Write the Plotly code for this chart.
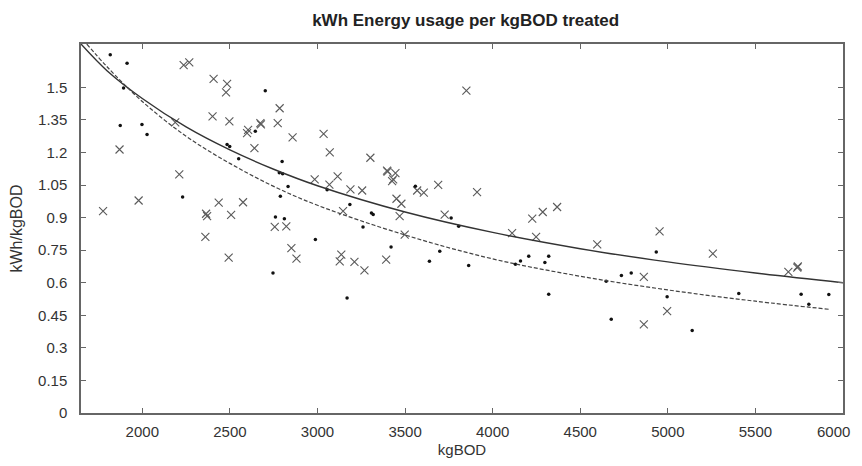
import plotly.graph_objects as go

# ------------------------------------------------------------
# data
DOT_X = [1817, 1913, 1893, 1874, 1998, 2027, 2702, 2645, 2484, 2499,
         2550, 2798, 2782, 2801, 2832, 2788, 2230, 3055, 2760, 2811,
         2988, 2746, 3559, 3185, 3308, 3318, 3763, 3806, 3260, 3420,
         3698, 3639, 3863, 4159, 4206, 4130, 4298, 4320, 3169, 4320,
         4934, 4648, 4735, 4791, 4996, 5405, 5761, 5805, 5919, 4677, 5139]
DOT_Y = [1.651, 1.611, 1.497, 1.324, 1.329, 1.283, 1.485, 1.298, 1.237, 1.228,
         1.171, 1.159, 1.107, 1.102, 1.044, 0.999, 0.995, 1.028, 0.903, 0.895,
         0.799, 0.645, 1.045, 0.961, 0.921, 0.914, 0.898, 0.860, 0.857, 0.765,
         0.745, 0.699, 0.679, 0.700, 0.722, 0.685, 0.693, 0.722, 0.530, 0.547,
         0.742, 0.607, 0.634, 0.645, 0.535, 0.550, 0.547, 0.501, 0.546, 0.432, 0.380]

CROSS_X = [2236, 2268, 2407, 2484, 2478, 2784, 2401, 2497, 2188, 2674,
           2677, 2773, 2604, 2598, 2858, 3035, 3070, 1870, 2640, 2211,
           2984, 3068, 1979, 1776, 2436, 2575, 2364, 2370, 2507, 2756,
           2822, 2360, 2851, 2880, 2493, 3850, 3302, 3397, 3400, 3445,
           3432, 3426, 3115, 3188, 3255, 3689, 3569, 3607, 3911, 3451,
           3479, 3146, 3469, 3726, 4226, 4286, 4368, 3498, 4111, 4248,
           3136, 3127, 3211, 3268, 3392, 4597, 4953, 5257, 5688, 5739,
           5742, 4863, 4996, 4863]
CROSS_Y = [1.603, 1.615, 1.539, 1.516, 1.477, 1.404, 1.367, 1.344, 1.339, 1.335,
           1.330, 1.335, 1.304, 1.289, 1.270, 1.286, 1.201, 1.214, 1.220, 1.099,
           1.076, 1.052, 0.979, 0.930, 0.969, 0.971, 0.918, 0.907, 0.913, 0.857,
           0.860, 0.811, 0.760, 0.711, 0.716, 1.485, 1.176, 1.117, 1.112, 1.105,
           1.076, 1.068, 1.090, 1.030, 1.025, 1.051, 1.025, 1.015, 1.018, 0.987,
           0.964, 0.930, 0.907, 0.914, 0.895, 0.926, 0.949, 0.822, 0.829, 0.811,
           0.730, 0.699, 0.696, 0.657, 0.707, 0.777, 0.837, 0.734, 0.650, 0.670,
           0.675, 0.627, 0.469, 0.408]

# fitted curves as they appear on the chart
SOLID_X = [1650, 1800, 2000, 2250, 2500, 2750, 3000, 3500, 4000, 4500, 5000, 5500, 6000]
SOLID_Y = [1.70, 1.576, 1.449, 1.318, 1.212, 1.123, 1.047, 0.926, 0.832, 0.757, 0.696, 0.645, 0.600]

DASH_X = [1683, 1800, 2000, 2250, 2500, 2750, 3000, 3500, 4000, 4500, 5000, 5500, 5918]
DASH_Y = [1.70, 1.594, 1.435, 1.275, 1.15, 1.044, 0.957, 0.82, 0.71, 0.63, 0.567, 0.515, 0.478]

Y_TICKS = [0, 0.15, 0.3, 0.45, 0.6, 0.75, 0.9, 1.05, 1.2, 1.35, 1.5]
Y_LABELS = ["0", "0.15", "0.3", "0.45", "0.6", "0.75", "0.9", "1.05", "1.2", "1.35", "1.5"]
X_TICKS = [2000, 2500, 3000, 3500, 4000, 4500, 5000, 5500, 6000]
X_LABELS = ["2000", "2500", "3000", "3500", "4000", "4500", "5000", "5500", "6000"]

FONT = "Liberation Sans, Arial, sans-serif"
INK = "#333333"
FRAME = "#666666"

fig = go.Figure()

fig.add_trace(go.Scatter(
    x=CROSS_X, y=CROSS_Y, mode="markers",
    marker=dict(symbol="x-thin-open", size=8, color="#5a5a5a",
                line=dict(color="#5a5a5a", width=1.1)),
    showlegend=False,
))
fig.add_trace(go.Scatter(
    x=DOT_X, y=DOT_Y, mode="markers",
    marker=dict(symbol="circle", size=3.5, color="#111111"),
    showlegend=False,
))
fig.add_trace(go.Scatter(
    x=SOLID_X, y=SOLID_Y, mode="lines", line_shape="spline",
    line=dict(color="#333333", width=1.4),
    showlegend=False,
))
fig.add_trace(go.Scatter(
    x=DASH_X, y=DASH_Y, mode="lines", line_shape="spline",
    line=dict(color="#444444", width=1.2, dash="4px,2px"),
    showlegend=False,
))

axis_common = dict(
    showline=True, linecolor=FRAME, linewidth=1.5, mirror="ticks",
    ticks="inside", ticklen=5, tickcolor=FRAME, showgrid=False, zeroline=False,
    tickfont=dict(family=FONT, size=15, color=INK), ticklabeloverflow="allow",
    automargin=False,
)

# last x label sits at the window edge, so it is drawn right-aligned below
fig.update_xaxes(
    range=[1650, 6000], tickvals=X_TICKS, ticktext=X_LABELS[:-1] + [""],
    ticklabelstandoff=4,
    title=dict(text="kgBOD", font=dict(family=FONT, size=15, color=INK), standoff=6),
    **axis_common,
)
fig.update_yaxes(
    range=[0, 1.7], tickvals=Y_TICKS, ticktext=Y_LABELS,
    ticklabelstandoff=9,
    title=dict(text="kWh/kgBOD", font=dict(family=FONT, size=16, color=INK), standoff=11),
    **axis_common,
)

fig.add_annotation(
    x=X_TICKS[-1], xref="x", y=0, yref="paper",
    text=X_LABELS[-1], showarrow=False,
    xanchor="right", xshift=9, yanchor="middle", yshift=-18,
    font=dict(family=FONT, size=15, color=INK),
)

# the page has an 8px body margin all round; keep the figure inside the
# window (846x450) so no scrollbars appear
fig.update_layout(
    width=846, height=450,
    margin=dict(l=73, r=11, t=36, b=45),
    plot_bgcolor="white", paper_bgcolor="white",
    title=dict(
        text="<b>kWh Energy usage per kgBOD treated</b>",
        x=0.541, xanchor="center", y=0.973, yanchor="middle",
        font=dict(family=FONT, size=17, color="#222222"),
    ),
)

fig.write_html("out.html")
